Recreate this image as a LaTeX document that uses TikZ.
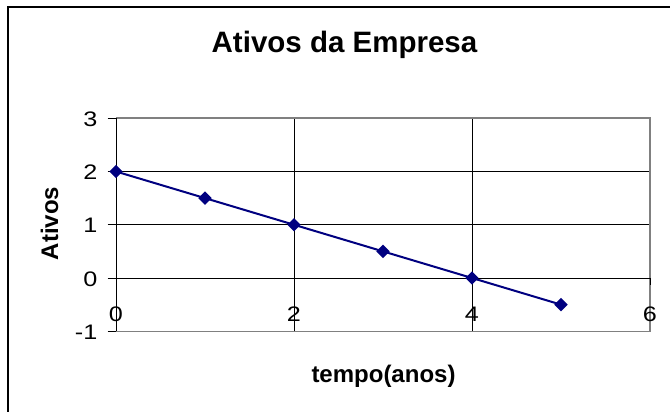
\documentclass[tikz,border=0pt]{standalone}
\usepackage{fontspec}
\setmainfont{Liberation Sans}
\usetikzlibrary{shapes.geometric}
\definecolor{navyblue}{RGB}{0,0,128}
\definecolor{plotgray}{RGB}{128,128,128}
\newcommand{\ticktext}[1]{\scalebox{1.2}[1]{#1}}
\tikzset{
  gridline/.style={black, line width=1pt},
  frameline/.style={plotgray, line width=1.5pt},
  axisline/.style={black, line width=1pt},
  ticklab/.style={inner sep=0pt, font=\fontsize{21}{21}\selectfont},
  datapt/.style={diamond, fill=navyblue, draw=none, inner sep=0pt, minimum width=13.5pt, minimum height=13.5pt},
  series/.style={navyblue, line width=2pt},
  titlelab/.style={inner sep=0pt, font=\fontsize{29.5}{29.5}\selectfont\bfseries},
  axtitle/.style={inner sep=0pt, font=\fontsize{24}{24}\selectfont\bfseries}
}
\begin{document}
\begin{tikzpicture}[x=1pt,y=-1pt]
\useasboundingbox (0,0) rectangle (670,412);
\fill[white] (0,0) rectangle (670,412);
% outer chart border
\draw[black, line width=2pt] (8,420) -- (8,7) -- (680,7);
% titles
\node[titlelab, anchor=base] (title) at (344.5,53) {Ativos da Empresa};
\node[axtitle, anchor=base, rotate=90] (ytitle) at (58,223.5) {Ativos};
\node[axtitle, anchor=base] (xtitle) at (383.5,382) {tempo(anos)};
\begin{scope}[shift={(116,278)}, x=89pt, y=53.25pt]
  % gridlines
  \foreach \v in {1,2} \draw[gridline] (0,\v) -- (6,\v);
  \foreach \u in {2,4} \draw[gridline] (\u,-1) -- (\u,3);
  % plot frame
  \draw[frameline] (0,3) -- (6,3) -- (6,-1) -- (0,-1);
  % axes
  \draw[axisline] (0,-1) -- (0,3);
  \draw[axisline] (0,0) -- (6,0);
  % y ticks
  \foreach \v in {-1,0,1,2,3} \draw[axisline] (-0.095,\v) -- (0,\v);
  % x ticks
  \foreach \u in {0,2,4,6} \draw[axisline] (\u,0) -- (\u,-0.13);
  % y labels
  \foreach \v/\t in {3/3,2/2,1/1,0/0,-1/-1}
    \node[ticklab, anchor=base east] (yl\v) at ([yshift=-8pt]-0.207,\v) {\ticktext{\t}};
  % x labels
  \foreach \u in {0,2,4,6}
    \node[ticklab, anchor=base] (xl\u) at ([yshift=-43.3pt]\u,0) {\ticktext{\u}};
  % data
  \coordinate (c0) at (0,2);
  \coordinate (c1) at (1,1.5);
  \coordinate (c2) at (2,1);
  \coordinate (c3) at (3,0.5);
  \coordinate (c4) at (4,0);
  \coordinate (c5) at (5,-0.5);
  \draw[series] (c0) -- (c1) -- (c2) -- (c3) -- (c4) -- (c5);
  \foreach \i in {0,...,5} \node[datapt] (p\i) at (c\i) {};
\end{scope}
\end{tikzpicture}
\end{document}
